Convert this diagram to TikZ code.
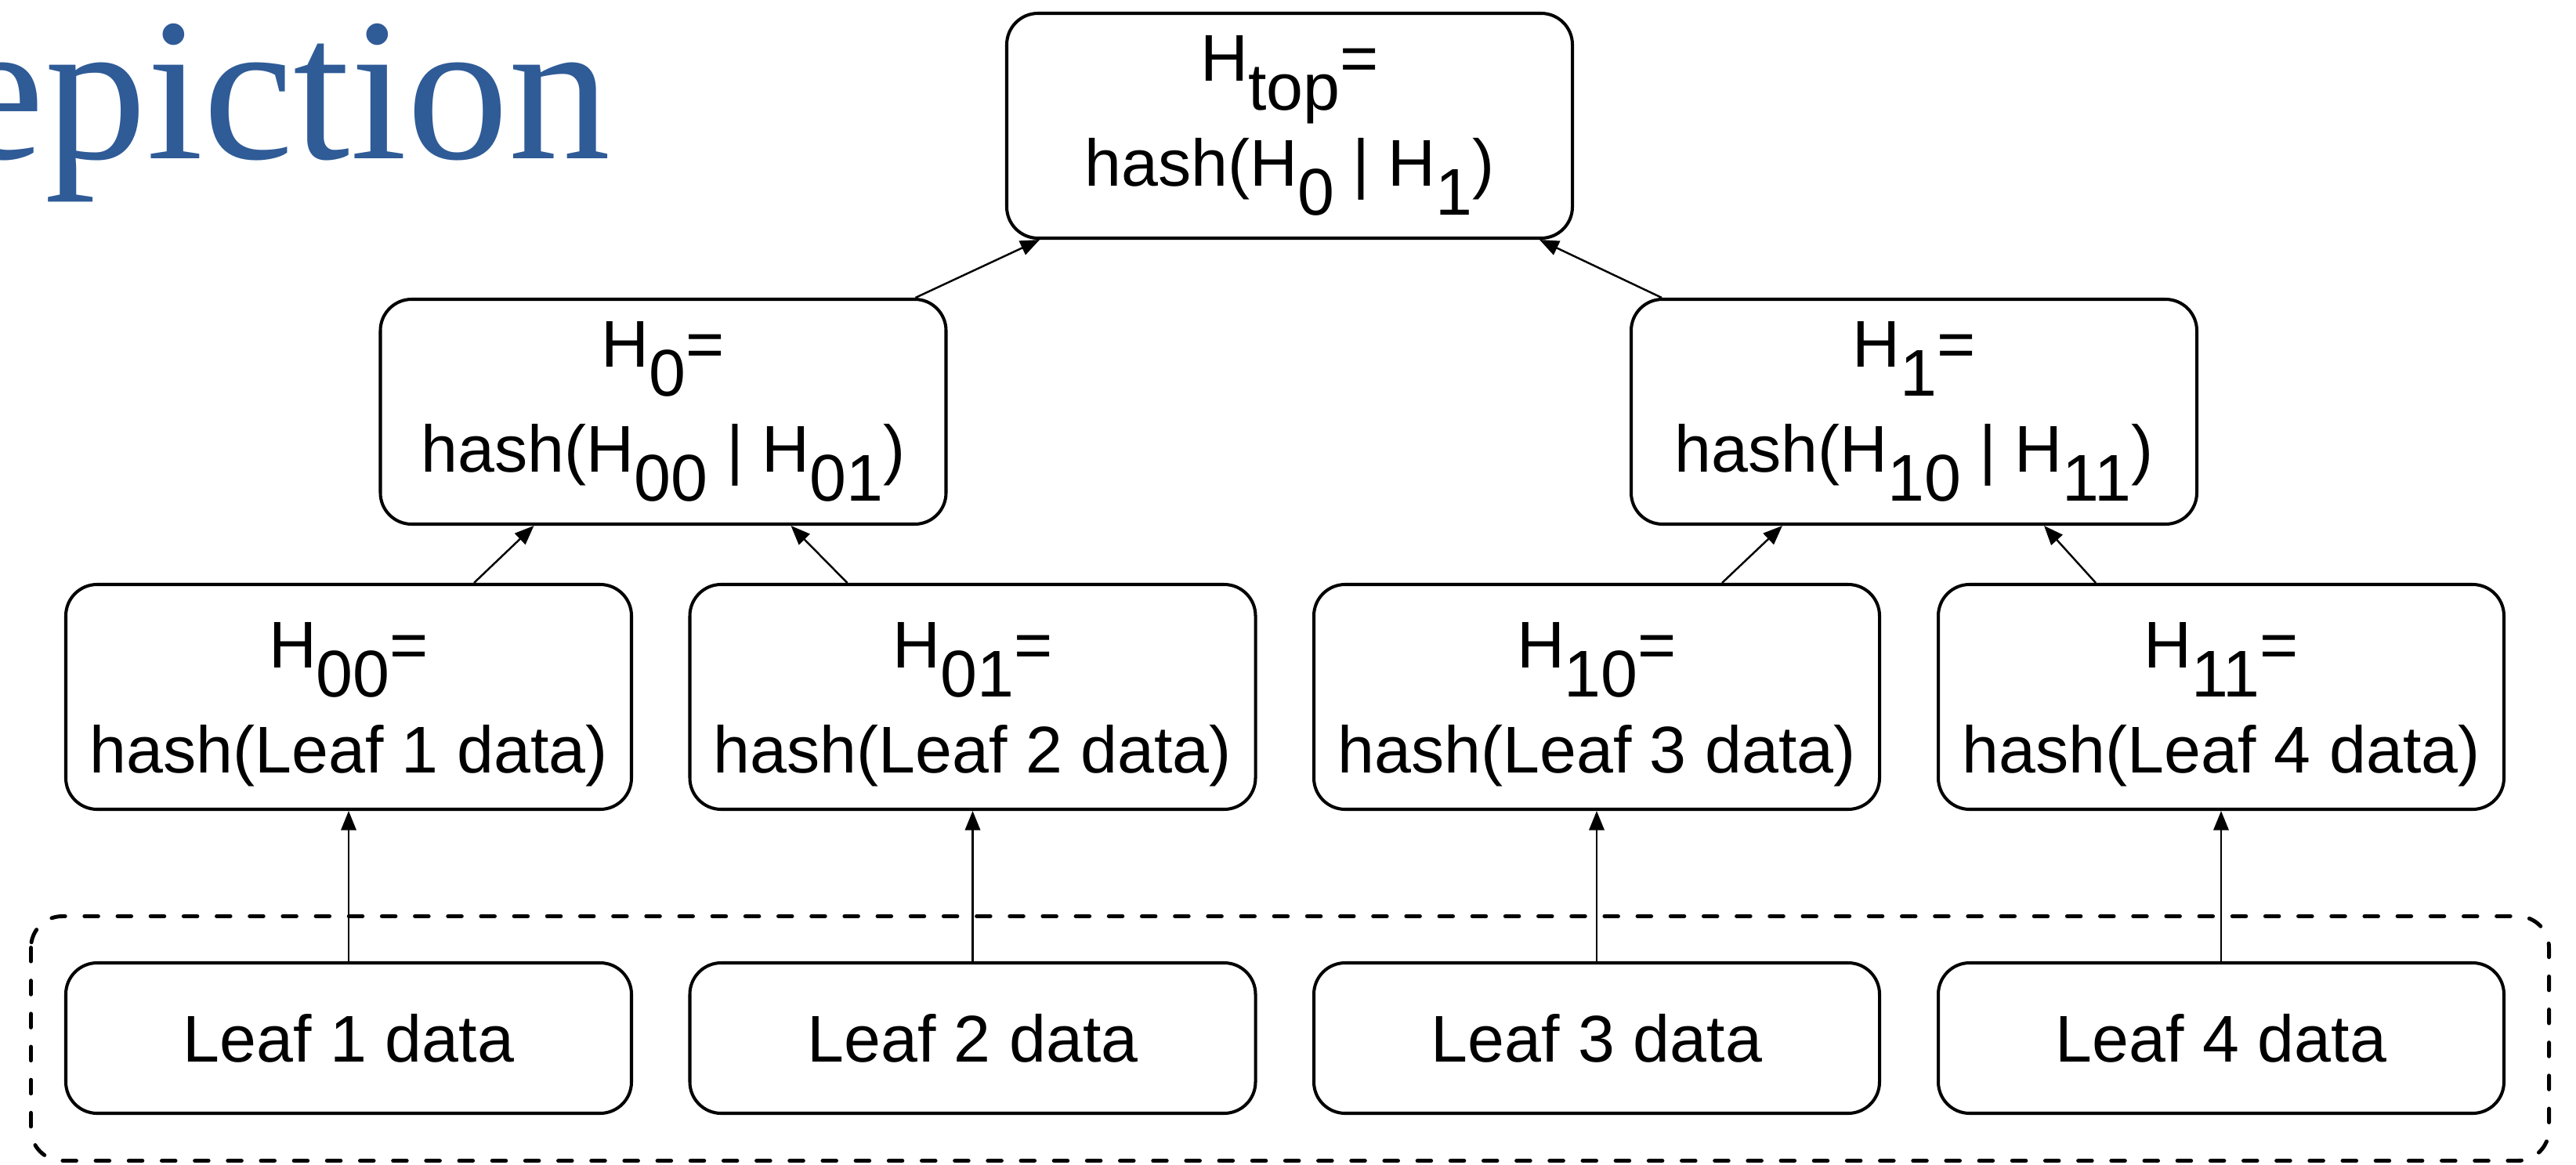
\documentclass[tikz,border=0pt]{standalone}
\usepackage{fontspec}
\newfontfamily\boxfont{Liberation Sans}
\newfontfamily\titlefont{Liberation Serif}
\usetikzlibrary{arrows.meta}
\definecolor{slideblue}{RGB}{47,91,151}
\newcommand{\hsub}[1]{\raisebox{-10.5pt}{#1}}
\newcommand{\leafhash}[2]{\rule{0pt}{22pt}H\hsub{#1}=\\hash(Leaf #2 data)}

\begin{document}
\begin{tikzpicture}[
  hashbox/.style={draw, line width=1.15pt, rounded corners=0.4cm, minimum width=7.22cm,
    minimum height=2.87cm, inner sep=0pt, align=center, font=\boxfont\fontsize{24}{38}\selectfont},
  databox/.style={hashbox, minimum height=1.92cm},
  link/.style={-{Triangle[length=7pt,width=5.5pt]}, line width=0.7pt},
  leafgroup/.style={dash pattern=on 5pt off 7pt, line cap=round, line width=1.4pt, rounded corners=0.4cm}
]
\useasboundingbox (0,0) rectangle (32.88,-14.87);

\node[anchor=base east, inner sep=0pt, text=slideblue, font=\titlefont\fontsize{74}{80}\selectfont] (title) at (7.80,-2.02) {epiction};

\node[hashbox] (top) at (16.46,-1.605) {H\hsub{top}=\\hash(H\hsub{0} | H\hsub{1})};
\node[hashbox] (h0) at (8.465,-5.255) {H\hsub{0}=\\hash(H\hsub{00} | H\hsub{01})};
\node[hashbox] (h1) at (24.43,-5.255) {H\hsub{1}=\\hash(H\hsub{10} | H\hsub{11})};

\node[hashbox] (h00) at (4.45,-8.895) {\leafhash{00}{1}};
\node[hashbox] (h01) at (12.415,-8.895) {\leafhash{01}{2}};
\node[hashbox] (h10) at (20.38,-8.895) {\leafhash{10}{3}};
\node[hashbox] (h11) at (28.35,-8.895) {\leafhash{11}{4}};

\node[databox] (d1) at (4.45,-13.25) {Leaf 1 data};
\node[databox] (d2) at (12.415,-13.25) {Leaf 2 data};
\node[databox] (d3) at (20.38,-13.25) {Leaf 3 data};
\node[databox] (d4) at (28.35,-13.25) {Leaf 4 data};

% dashed group round the leaf data
\path[draw,leafgroup] (0.395,-11.695) rectangle (32.535,-14.815);

\path[draw,link] (d1) -- (h00);
\path[draw,link] (d2) -- (h01);
\path[draw,link] (d3) -- (h10);
\path[draw,link] (d4) -- (h11);

\path[draw,link] ([xshift=1.6cm]h00.north) -- ([xshift=-1.65cm]h0.south);
\path[draw,link] ([xshift=-1.6cm]h01.north) -- ([xshift=1.63cm]h0.south);
\path[draw,link] ([xshift=1.6cm]h10.north) -- ([xshift=-1.68cm]h1.south);
\path[draw,link] ([xshift=-1.6cm]h11.north) -- ([xshift=1.66cm]h1.south);

\path[draw,link] ([xshift=3.22cm]h0.north) -- ([xshift=-3.19cm]top.south);
\path[draw,link] ([xshift=-3.22cm]h1.north) -- ([xshift=3.19cm]top.south);
\end{tikzpicture}
\end{document}
